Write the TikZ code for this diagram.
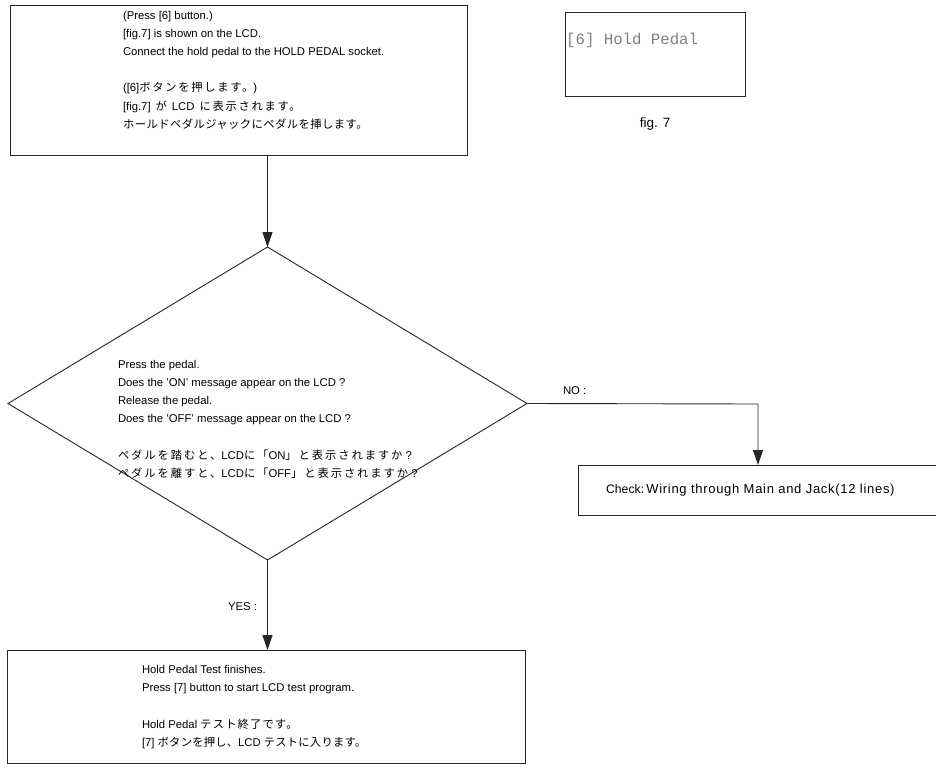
\documentclass[tikz,border=0pt]{standalone}
\usepackage{fontspec}
\setmainfont{Liberation Sans}
\newfontfamily\jp{Noto Sans CJK JP}
\newfontfamily\lcdfont{Liberation Mono}
% Japanese run with its own tracking (percent of the font size)
\newcommand\J[2][4]{{\jp\addfontfeature{LetterSpace=#1}#2}}
\usetikzlibrary{arrows.meta,shapes.geometric}

\tikzset{
  frame/.style={draw=black!85, line width=0.9pt, inner sep=0pt, outer sep=0pt},
  txt/.style={inner sep=0pt, outer sep=0pt, align=left, anchor=north west,
    font=\fontsize{11.3}{18.2}\selectfont},
  lbl/.style={inner sep=0pt, outer sep=0pt, font=\fontsize{11.3}{13}\selectfont},
  arr/.style={draw=black!85, line width=0.9pt, -{Triangle[width=10pt,length=15pt]}}
}

\begin{document}
\begin{tikzpicture}[x=1pt,y=-1pt]
\clip (0,0) rectangle (936,768);
\fill[white] (0,0) rectangle (936,768);

% first step box
\node[frame, rectangle, minimum width=457pt, minimum height=150pt] (topbox) at (238.5,80) {};
\node[txt] (toptext) at (123,11) {(Press [6] button.)\\
{[fig.7] is shown on the LCD.}\\
Connect the hold pedal to the HOLD PEDAL socket.\\[18.2pt]
([6]\J[15]{ボタンを押します。})\\
{[fig.7]\hspace{5pt}\J{が}\hspace{5pt}LCD\hspace{5pt}\J[15]{に表示されます。}}\\
\J{ホールドペダルジャックにペダルを挿します。}};

% LCD display
\node[frame, rectangle, minimum width=180pt, minimum height=84pt] (lcd) at (655,54) {};
\node[inner sep=0pt, anchor=west, text=black!50, font=\lcdfont\fontsize{15.7}{16}\selectfont] (lcdtext) at (566,40) {[6] Hold Pedal};
\node[lbl, font=\fontsize{13.5}{15}\selectfont] (figcap) at (655,124) {fig. 7};

% decision
\node[frame, diamond, minimum width=519pt, minimum height=313pt] (dia) at (267.5,403.5) {};
\node[txt] (diatext) at (118,360) {Press the pedal.\\
Does the 'ON' message appear on the LCD ?\\
Release the pedal.\\
Does the 'OFF' message appear on the LCD ?\\[18.2pt]
\J[17]{ペダルを踏むと、}LCD\J[17]{に「}ON\J[17]{」と表示されますか} ?\\
\J[17]{ペダルを離すと、}LCD\J[17]{に「}OFF\J[17]{」と表示されますか} ?};

% end box
\node[frame, rectangle, minimum width=518pt, minimum height=113pt] (endbox) at (266,706.5) {};
\node[txt] (endtext) at (142,665.5) {Hold Pedal Test finishes.\\
Press [7] button to start LCD test program.\\[18.2pt]
Hold Pedal \J[10]{テスト終了です。}\\
{[7] \J[2]{ボタンを押し、}LCD \J[2]{テストに入ります。}}};

% check box
\node[frame, rectangle, minimum width=367pt, minimum height=50pt] (checkbox) at (761.5,490) {};
\node[lbl, anchor=west, font=\fontsize{12.3}{14}\selectfont] (checktext) at (606,490) {Check:\hspace{2pt}{\addfontfeature{LetterSpace=5.5}\fontsize{13}{15}\selectfont Wiring through Main and Jack(12 lines)}};

% connectors
\draw[arr] (topbox.south -| dia.north) -- (dia.north);
\draw[arr] (dia.south) -- (endbox.north -| dia.south);
\coordinate (noturn) at (758,404);
\draw[arr] (dia.east) -- (noturn) -- (noturn |- checkbox.north);

\node[lbl, anchor=west] (nolabel) at (563,391) {NO :};
\node[lbl, anchor=east] (yeslabel) at (257,607) {YES :};
\end{tikzpicture}
\end{document}
